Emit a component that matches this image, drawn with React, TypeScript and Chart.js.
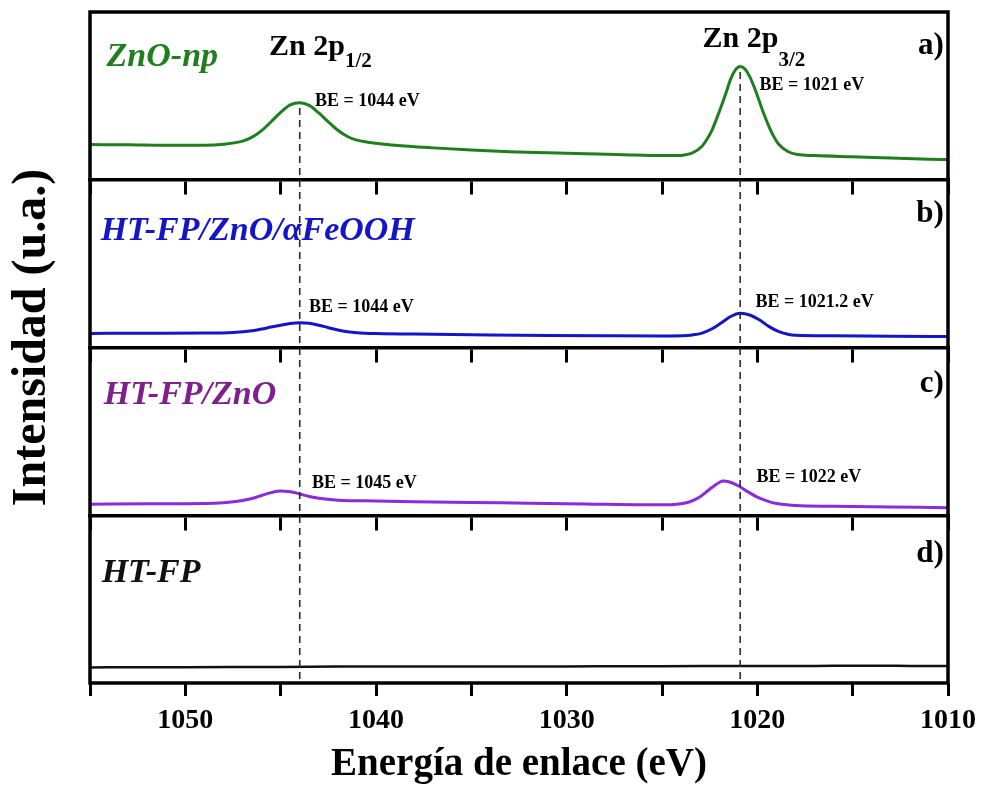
import React, { useEffect, useRef } from 'react';
import { Chart, registerables } from 'chart.js';

Chart.register(...registerables);

// ---------- axis ----------
const X_MIN = 1010;
const X_MAX = 1055;
const X_STEP = 5;
const Y_MIN = 0;
const Y_MAX = 400;
const X_TITLE = 'Energía de enlace (eV)';
const Y_TITLE = 'Intensidad (u.a.)';
const PANEL_OFFSETS = [300, 200, 100, 0]; // a, b, c, d
const PANEL_SEPARATORS = [300, 200, 100];

// ---------- series (a) ZnO-np ----------
const ZNO_NP_EV = [1055, 1053, 1051, 1049, 1048, 1047, 1046.5, 1046, 1045.5, 1045, 1044.5, 1044, 1043.5, 1043, 1042.5, 1042, 1041.5, 1041, 1040.5, 1040, 1039, 1037, 1035, 1033, 1031, 1029, 1027, 1025, 1024, 1023.9, 1023.4, 1022.9, 1022.65, 1022.4, 1022.15, 1021.9, 1021.65, 1021.4, 1021.15, 1020.9, 1020.65, 1020.4, 1020.15, 1019.9, 1019.65, 1019.4, 1019.15, 1018.9, 1018.4, 1017.9, 1017, 1015, 1013, 1011, 1010];
const ZNO_NP_INT = [21.0, 20.8, 20.5, 20.6, 21.2, 23.0, 25.4, 29.3, 34.6, 40.2, 44.6, 45.9, 44.3, 39.8, 34.5, 29.5, 25.8, 23.6, 22.5, 21.8, 20.6, 19.0, 17.7, 16.7, 16.1, 15.5, 14.9, 14.4, 14.4, 14.6, 16.0, 20.0, 24.0, 29.0, 36.0, 43.5, 51.5, 60.0, 65.5, 67.5, 66.0, 61.5, 54.8, 47.0, 39.0, 32.0, 26.0, 21.5, 16.8, 15.0, 14.4, 13.7, 13.0, 12.2, 12.0];

// ---------- series (b) HT-FP/ZnO/aFeOOH ----------
const HTFP_ZNO_FE_EV = [1055, 1052, 1049, 1047.5, 1046.5, 1046, 1045.5, 1045, 1044.5, 1044, 1043.5, 1043, 1042.5, 1042, 1041.5, 1041, 1040, 1037, 1034, 1031, 1028, 1025, 1023.9, 1023.4, 1022.9, 1022.4, 1021.9, 1021.4, 1020.9, 1020.4, 1019.9, 1019.4, 1018.9, 1018.4, 1018, 1016, 1013, 1010];
const HTFP_ZNO_FE_INT = [8.4, 8.5, 8.6, 9.0, 10.0, 11.0, 12.2, 13.3, 14.3, 14.8, 14.4, 13.3, 11.8, 10.4, 9.4, 8.8, 8.3, 7.9, 7.5, 7.2, 7.0, 6.9, 7.0, 7.5, 8.6, 11.0, 14.6, 18.5, 20.4, 19.4, 16.5, 12.6, 9.6, 7.9, 7.3, 7.0, 6.7, 6.5];

// ---------- series (c) HT-FP/ZnO ----------
const HTFP_ZNO_EV = [1055, 1052, 1049, 1048, 1047, 1046.5, 1046, 1045.5, 1045, 1044.5, 1044, 1043.5, 1043, 1042, 1040, 1038, 1035, 1032, 1029, 1026, 1024.5, 1024, 1023.5, 1023, 1022.5, 1022, 1021.8, 1021.5, 1021, 1020.5, 1020, 1019.5, 1019, 1018, 1016, 1013, 1010];
const HTFP_ZNO_INT = [6.6, 6.8, 7.0, 7.5, 8.8, 10.0, 11.8, 13.5, 14.5, 14.0, 12.7, 11.2, 10.1, 9.0, 8.5, 8.1, 7.6, 7.2, 6.7, 6.2, 6.3, 6.8, 8.2, 11.0, 15.5, 19.5, 20.4, 20.0, 17.6, 14.0, 10.8, 8.6, 7.0, 5.8, 5.3, 4.9, 4.5];

// ---------- series (d) HT-FP ----------
const HTFP_EV = [1055, 1052, 1050, 1047, 1045, 1042, 1040, 1037, 1035, 1032, 1030, 1027, 1025, 1022, 1020, 1017, 1015, 1012, 1010];
const HTFP_INT = [9.3, 9.4, 9.4, 9.5, 9.6, 9.8, 9.9, 9.8, 9.8, 9.9, 9.9, 10.0, 10.0, 10.1, 10.2, 10.2, 10.3, 10.2, 10.1];

const SERIES_EV = [ZNO_NP_EV, HTFP_ZNO_FE_EV, HTFP_ZNO_EV, HTFP_EV];
const SERIES_INT = [ZNO_NP_INT, HTFP_ZNO_FE_INT, HTFP_ZNO_INT, HTFP_INT];
const SERIES_NAMES = ['ZnO-np', 'HT-FP/ZnO/αFeOOH', 'HT-FP/ZnO', 'HT-FP'];
const LINE_COLORS = ['#1d801d', '#1515c8', '#8a2be0', '#111111'];
const LINE_WIDTHS = [3, 3, 3, 2.5];

// ---------- annotations ----------
const LABEL_COLORS = ['#1d801d', '#1515c8', '#80208c', '#111111'];
const LABEL_EV = [1054.13, 1054.44, 1054.28, 1054.39];
const LABEL_Y = [367.8, 264.1, 166.3, 60.2];

const PANEL_LETTERS = ['a)', 'b)', 'c)', 'd)'];
const PANEL_LETTER_EV = 1010.22;
const PANEL_LETTER_Y = [375.0, 274.8, 173.5, 72.1];

const PEAK_TITLE_MAIN = ['Zn 2p', 'Zn 2p'];
const PEAK_TITLE_SUB = ['1/2', '3/2'];
const PEAK_TITLE_EV = [1045.61, 1022.87];
const PEAK_TITLE_Y = [374.4, 379.1];
const PEAK_SUB_Y = [367.2, 367.8];

const BE_LABELS = ['BE = 1044 eV', 'BE = 1021 eV', 'BE = 1044 eV', 'BE = 1021.2 eV', 'BE = 1045 eV', 'BE = 1022 eV'];
const BE_EV = [1043.2, 1019.89, 1043.52, 1020.1, 1043.36, 1020.05];
const BE_Y = [343.9, 353.4, 221.2, 224.2, 116.2, 119.8];

const DASH_EV = [1044, 1020.9];
const DASH_TOP = [342.8, 364.2];

const FONT = '"Liberation Serif", "Times New Roman", serif';

const overlayPlugin = {
  id: 'overlay',
  afterDraw(chart: any) {
    const { ctx, chartArea: ca, scales } = chart;
    const x = scales.x;
    const y = scales.y;
    ctx.save();

    // dashed reference lines
    ctx.setLineDash([7, 5]);
    ctx.strokeStyle = '#2a2a2a';
    ctx.lineWidth = 1.6;
    DASH_EV.forEach((ev, i) => {
      const px = x.getPixelForValue(ev);
      ctx.beginPath();
      ctx.moveTo(px, y.getPixelForValue(DASH_TOP[i]));
      ctx.lineTo(px, y.getPixelForValue(Y_MIN));
      ctx.stroke();
    });
    ctx.setLineDash([]);

    // frame
    ctx.strokeStyle = '#000';
    ctx.lineWidth = 3.5;
    ctx.strokeRect(ca.left, ca.top, ca.right - ca.left, ca.bottom - ca.top);

    // sample labels
    ctx.textBaseline = 'alphabetic';
    ctx.textAlign = 'left';
    ctx.font = `italic bold 34px ${FONT}`;
    SERIES_NAMES.forEach((name, i) => {
      ctx.fillStyle = LABEL_COLORS[i];
      ctx.fillText(name, x.getPixelForValue(LABEL_EV[i]), y.getPixelForValue(LABEL_Y[i]));
    });

    // panel letters
    ctx.fillStyle = '#000';
    ctx.textAlign = 'right';
    ctx.font = `bold 31px ${FONT}`;
    PANEL_LETTERS.forEach((l, i) => {
      ctx.fillText(l, x.getPixelForValue(PANEL_LETTER_EV), y.getPixelForValue(PANEL_LETTER_Y[i]));
    });

    // peak titles
    ctx.textAlign = 'left';
    PEAK_TITLE_MAIN.forEach((m, i) => {
      const px = x.getPixelForValue(PEAK_TITLE_EV[i]);
      ctx.font = `bold 30px ${FONT}`;
      ctx.fillText(m, px, y.getPixelForValue(PEAK_TITLE_Y[i]));
      const w = ctx.measureText(m).width;
      ctx.font = `bold 21px ${FONT}`;
      ctx.fillText(PEAK_TITLE_SUB[i], px + w, y.getPixelForValue(PEAK_SUB_Y[i]));
    });

    // BE labels
    ctx.font = `bold 18px ${FONT}`;
    BE_LABELS.forEach((t, i) => {
      ctx.fillText(t, x.getPixelForValue(BE_EV[i]), y.getPixelForValue(BE_Y[i]));
    });

    // y-axis title (rotated)
    ctx.save();
    ctx.font = `bold 48px ${FONT}`;
    ctx.textAlign = 'center';
    ctx.textBaseline = 'middle';
    ctx.translate(33, (y.getPixelForValue(Y_MAX) + y.getPixelForValue(Y_MIN)) / 2 - 10);
    ctx.rotate(-Math.PI / 2);
    ctx.fillText(Y_TITLE, 0, 0);
    ctx.restore();

    ctx.restore();
  },
};

export default function App() {
  const canvasRef = useRef<HTMLCanvasElement | null>(null);

  useEffect(() => {
    document.body.style.margin = '0';
    const canvas = canvasRef.current;
    if (!canvas) return;

    const datasets = SERIES_EV.map((evs, i) => ({
      label: SERIES_NAMES[i],
      data: evs.map((ev, j) => ({ x: ev, y: SERIES_INT[i][j] + PANEL_OFFSETS[i] })),
      borderColor: LINE_COLORS[i],
      backgroundColor: LINE_COLORS[i],
      borderWidth: LINE_WIDTHS[i],
      pointRadius: 0,
      cubicInterpolationMode: 'monotone' as const,
      fill: false,
      xAxisID: 'x',
      yAxisID: 'y',
    }));

    // one extra x axis per panel separator: draws the separator line and its ticks
    const separatorScales: Record<string, any> = {};
    PANEL_SEPARATORS.forEach((v, i) => {
      separatorScales['xsep' + i] = {
        type: 'linear',
        axis: 'x',
        position: { y: v },
        min: X_MIN,
        max: X_MAX,
        reverse: true,
        ticks: { display: false, stepSize: X_STEP, autoSkip: false },
        grid: {
          display: true,
          drawOnChartArea: false,
          drawTicks: true,
          tickLength: 13,
          tickWidth: 3,
          tickColor: '#000',
          color: '#000',
          lineWidth: 3,
        },
        border: { display: true, width: 3.5, color: '#000' },
      };
    });

    const chart = new Chart(canvas, {
      type: 'line',
      data: { datasets },
      options: {
        animation: false,
        responsive: false,
        devicePixelRatio: 1,
        layout: { padding: { left: 0, right: 33, top: 12, bottom: 0 } },
        plugins: {
          legend: { display: false },
          tooltip: { enabled: false },
        },
        scales: {
          x: {
            type: 'linear',
            min: X_MIN,
            max: X_MAX,
            reverse: true,
            afterFit: (scale: any) => {
              scale.height = 105;
            },
            ticks: {
              stepSize: X_STEP,
              autoSkip: false,
              maxRotation: 0,
              padding: 8,
              color: '#000',
              font: { family: FONT, size: 28, weight: 'bold' },
              callback: (v: any) => (Number(v) % 10 === 0 ? String(v) : ''),
            },
            grid: {
              display: true,
              drawOnChartArea: false,
              drawTicks: true,
              tickLength: 13,
              tickWidth: 3,
              tickColor: '#000',
              color: '#000',
              lineWidth: 3,
            },
            border: { display: false },
            title: {
              display: true,
              text: X_TITLE,
              color: '#000',
              font: { family: FONT, size: 39, weight: 'bold' },
              padding: { top: 0, bottom: 0 },
            },
          },
          y: {
            type: 'linear',
            position: 'left',
            min: Y_MIN,
            max: Y_MAX,
            afterFit: (scale: any) => {
              scale.width = 90;
            },
            ticks: { display: false },
            grid: { display: false },
            border: { display: false },
            title: { display: false, text: Y_TITLE },
          },
          ...separatorScales,
        },
      },
      plugins: [overlayPlugin],
    });

    return () => chart.destroy();
  }, []);

  return (
    <div style={{ position: 'absolute', left: 0, top: 0, width: 984, height: 788 }}>
      <canvas ref={canvasRef} width={984} height={788} style={{ width: 984, height: 788 }} />
    </div>
  );
}
